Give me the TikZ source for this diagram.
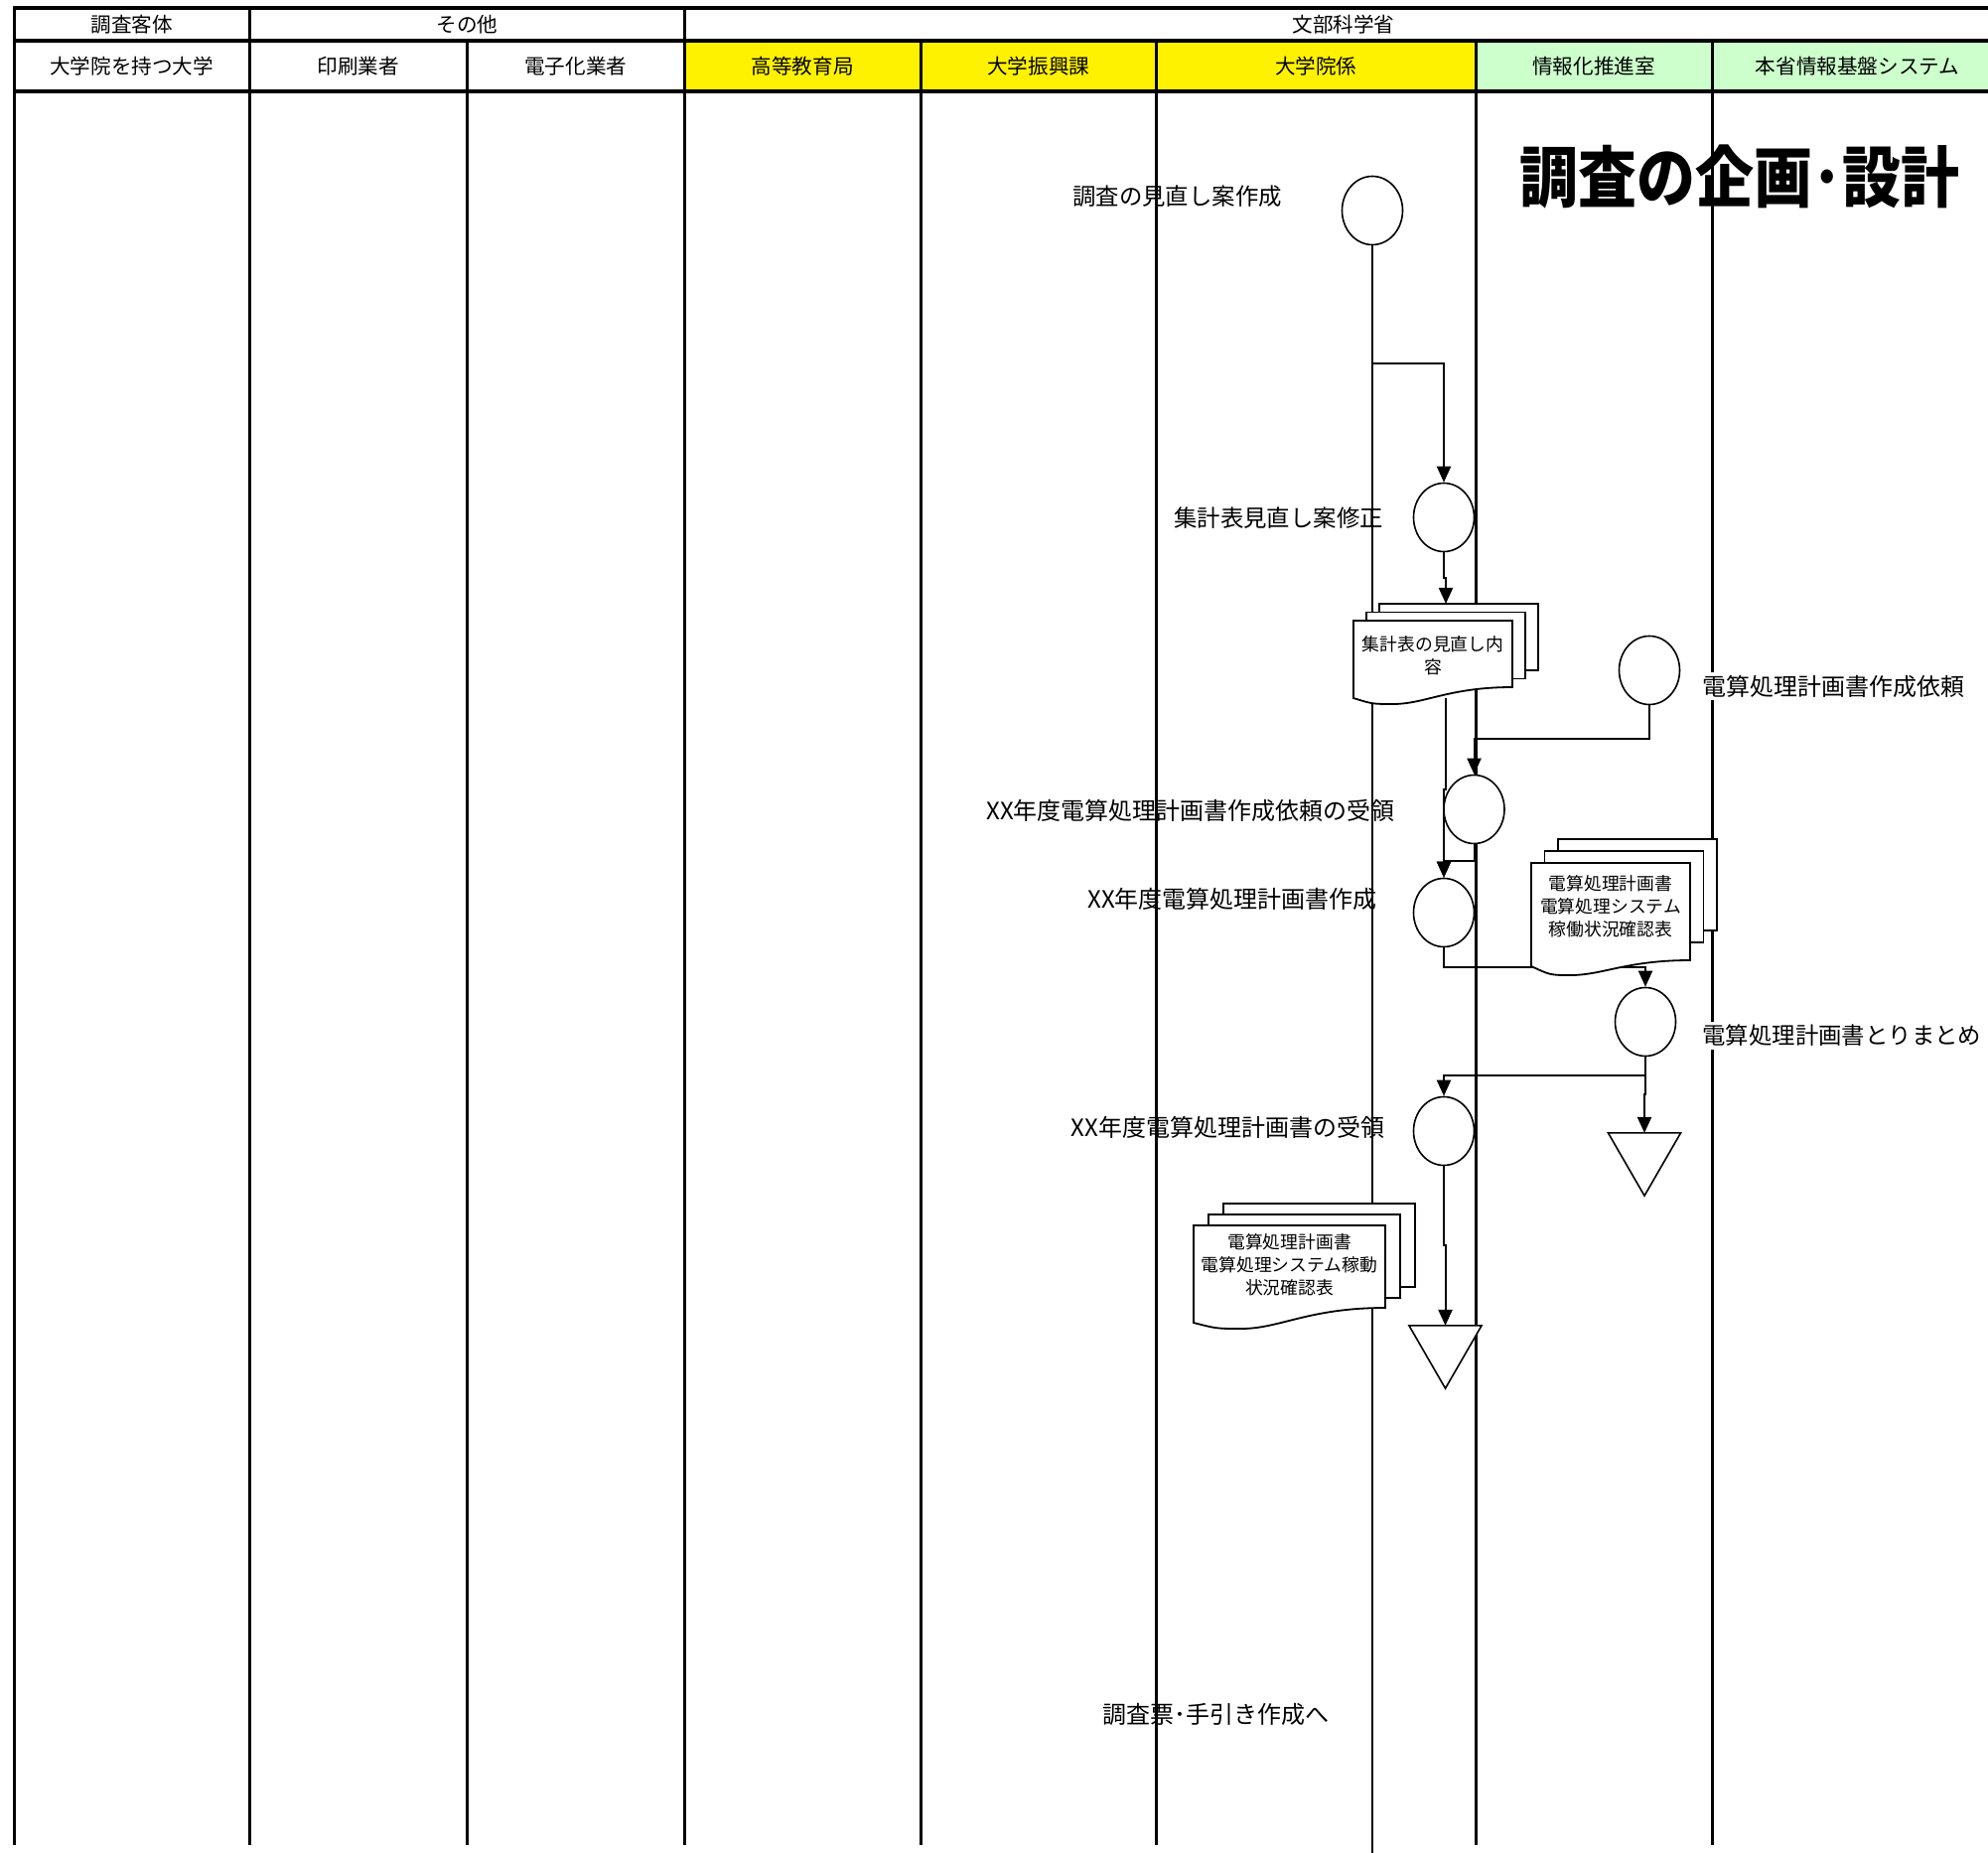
\documentclass[tikz,border=0pt]{standalone}
\usepackage{fontspec}
\setmainfont{Noto Sans CJK JP}
\usetikzlibrary{shapes.geometric,arrows.meta,calc}
\newcommand\mdoc[9]{%
  % #1 x0, #2 y0 (front top-left), #3 w, #4 h (left side), #5 dx, #6 dy, #7 rise at right, #8 back height, #9 trough
  \draw[docshape] ({#1+2*#5},{#2-2*#6}) rectangle ++(#3,#8);
  \draw[docshape] ({#1+#5},{#2-#6}) rectangle ++(#3,#8);
  \draw[docshape] (#1,#2) -- ({#1+#3},#2) -- ({#1+#3},{#2+#4-#7})
    .. controls ({#1+0.6*#3},{#2+#4-#7}) and ({#1+0.45*#3},{#2+#4+#9}) .. ({#1+0.25*#3},{#2+#4+#9})
    .. controls ({#1+0.12*#3},{#2+#4+#9}) .. (#1,{#2+#4}) -- cycle;
}
\begin{document}
\begin{tikzpicture}[x=0.5pt,y=-0.5pt,
  lane/.style={line width=1.5pt},
  hline/.style={line width=1.6pt},
  hdr/.style={font=\fontsize{10.3}{12}\selectfont, inner sep=0},
  lbl/.style={font=\fontsize{11.7}{14}\selectfont, inner sep=1.5pt},
  lblx/.style={font=\fontsize{12}{14}\selectfont, inner sep=1.5pt},
  proc/.style={ellipse, draw, line width=0.8pt, minimum width=30.5pt, minimum height=34.5pt, inner sep=0, fill=white},
  term/.style={regular polygon, regular polygon sides=3, shape border rotate=180, draw, line width=0.8pt, minimum size=42.15pt, inner sep=0, outer sep=0, fill=white},
  conn/.style={line width=1pt},
  arr/.style={conn, -{Triangle[length=8pt,width=7pt]}},
  docshape/.style={draw, line width=0.9pt, fill=white},
  doctext/.style={font=\fontsize{8.9}{11.5}\selectfont, align=center, inner sep=0},
]
\useasboundingbox (0,0) rectangle (2002,1866);
\fill[white] (0,0) rectangle (2002,1866);

% header fills
\fill[yellow] (689.5,41) rectangle (1486,92);
\fill[green!20] (1486,41) rectangle (2002,92);

% lane lines
\foreach \x in {14,251.5,689.5} \draw[lane] (\x,8) -- (\x,1858);
\foreach \x in {470,927,1164.5,1486,1724} \draw[lane] (\x,41) -- (\x,1858);

% header horizontal lines
\draw[hline] (13.25,8) -- (2002,8);
\draw[hline] (13.25,41) -- (2002,41);
\draw[line width=2pt] (13.25,92) -- (2002,92);

% header texts
\node[hdr] (g1) at (132.75,24.5) {調査客体};
\node[hdr] (g2) at (470.5,24.5) {その他};
\node[hdr] (g3) at (1353,24.5) {文部科学省};
\node[hdr] (h1) at (132.75,66.5) {大学院を持つ大学};
\node[hdr] (h2) at (360.75,66.5) {印刷業者};
\node[hdr] (h3) at (579.75,66.5) {電子化業者};
\node[hdr] (h4) at (808.25,66.5) {高等教育局};
\node[hdr] (h5) at (1045.75,66.5) {大学振興課};
\node[hdr] (h6) at (1325.25,66.5) {大学院係};
\node[hdr] (h7) at (1605,66.5) {情報化推進室};
\node[hdr] (h8) at (1870.5,66.5) {本省情報基盤システム};

% title
\node[font=\bfseries\fontsize{33.5}{38}\selectfont, inner sep=0] (title) at (1752,178) {\scalebox{0.88}[1]{調査の企画･設計}};

% labels
\node[lbl] (l1) at (1185.5,198) {調査の見直し案作成};
\node[lbl] (l2) at (1287.5,522) {集計表見直し案修正};
\node[lblx, fill=white, anchor=west] (l3) at (1711,691) {電算処理計画書作成依頼};
\node[lblx] (l4) at (1199,816) {XX年度電算処理計画書作成依頼の受領};
\node[lblx] (l5) at (1241,905) {XX年度電算処理計画書作成};
\node[lbl, fill=white, anchor=west] (l6) at (1711,1043) {電算処理計画書とりまとめ};
\node[lblx] (l7) at (1236.5,1135) {XX年度電算処理計画書の受領};
\node[lblx] (l8) at (1224,1726) {調査票･手引き作成へ};

% process circles
\node[proc] (c1) at (1382,212) {};
\node[proc] (c2) at (1454,521) {};
\node[proc] (c3) at (1661,675) {};
\node[proc] (c4) at (1484.5,815) {};
\node[proc] (c5) at (1454,919) {};
\node[proc] (c6) at (1657,1029) {};
\node[proc] (c7) at (1454,1139) {};

% terminals
\node[term] (t1) at (1656,1162) {};
\node[term] (t2) at (1455.5,1356) {};

% connectors
\coordinate (c1end) at (1382,1866);
\coordinate (d1top) at (1456,608);
\coordinate (d1bot) at (1456,703);
\draw[conn] (c1.south) -- (c1end);
\draw[arr] (c1.south) -- ++(0,118.5) -| (c2.north);
\draw[arr] (c2.south) -- ++(0,26) -| (d1top);
\draw[arr] (d1bot) -- ++(0,92) -| (c5.north);
\draw[arr] (c3.south) -- ++(0,34) -| (c4.north);
\draw[arr] (c4.south) -- ++(0,17) -| (c5.north);
\draw[arr] (c5.south) -- ++(0,20) -| (c6.north);
\draw[arr] (c6.south) -- ++(0,19) -| (c7.north);
\draw[arr] (c6.south) -- ++(0,38) -| (t1.north);
\draw[arr] (c7.south) -- ++(0,80) -| (t2.north);

% documents
\mdoc{1363}{625}{160}{78}{13}{8.5}{11}{67}{6}
\node[doctext] (d1) at (1443,660) {集計表の見直し内\\容};
\mdoc{1542}{869}{160}{104}{13.5}{12}{6}{92}{9}
\node[doctext] (d2) at (1622,913) {電算処理計画書\\電算処理システム\\稼働状況確認表};
\mdoc{1202}{1234}{193}{98}{15}{11}{15}{84}{6}
\node[doctext] (d3) at (1298.5,1273.5) {電算処理計画書\\電算処理システム稼動\\状況確認表};
\end{tikzpicture}
\end{document}
